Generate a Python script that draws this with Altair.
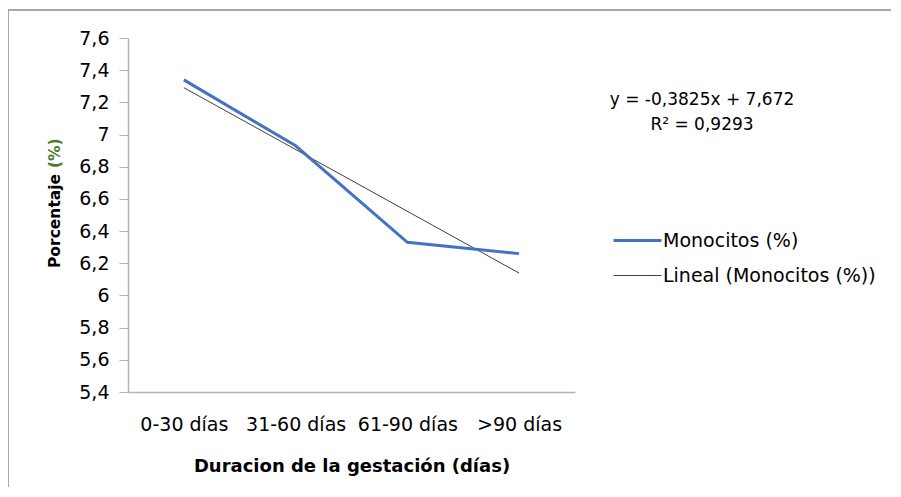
import altair as alt
import pandas as pd

categorias = ["0-30 días", "31-60 días", "61-90 días", ">90 días"]
indice = [1, 2, 3, 4]
monocitos = [7.34, 6.93, 6.33, 6.26]
series = ["Monocitos (%)", "Lineal (Monocitos (%))"]
y_ticks = [5.4, 5.6, 5.8, 6.0, 6.2, 6.4, 6.6, 6.8, 7.0, 7.2, 7.4, 7.6]
ecuacion = ["y = -0,3825x + 7,672", "R² = 0,9293"]
titulo_y = ["Porcentaje", "(%)"]

df = pd.DataFrame({"idx": indice, "cat": categorias, "valor": monocitos, "serie": series[0]})

FONT = "DejaVu Sans"
W, H = 447, 354
AX = "#b3b3b3"

label_expr = "[" + ",".join("'" + c + "'" for c in categorias) + "][datum.value - 1]"

xenc = alt.X("idx:Q", scale=alt.Scale(domain=[0.5, 4.5], nice=False, zero=False),
             axis=alt.Axis(values=indice, labelExpr=label_expr, title="Duracion de la gestación (días)",
                           grid=False, ticks=False, labelPadding=23, titlePadding=23,
                           domainColor=AX, domainWidth=1.5, labelFontSize=19,
                           titleFontSize=18, titleFontWeight="bold", labelColor="#000", titleColor="#000",
                           labelFont=FONT, titleFont=FONT))
yenc = alt.Y("valor:Q", scale=alt.Scale(domain=[5.4, 7.6], nice=False, zero=False),
             axis=alt.Axis(values=y_ticks, labelExpr="replace(format(datum.value, '.1~f'), '.', ',')",
                           title=None, grid=False, tickSize=9, tickColor=AX,
                           domainColor=AX, domainWidth=1.5, labelPadding=10,
                           labelFontSize=19, labelColor="#000", labelFont=FONT))

leg = alt.Legend(title=None, orient="none", legendX=484, legendY=177,
                 symbolType="stroke", symbolSize=2304, labelFontSize=19, labelLimit=0,
                 labelFont=FONT, labelColor="#000", rowPadding=0, labelOffset=0)
color = alt.Color("serie:N", scale=alt.Scale(domain=series, range=["#4472C4", "#404040"]), legend=leg)
swidth = alt.StrokeWidth("serie:N", scale=alt.Scale(domain=series, range=[3, 1]), legend=leg)

base = alt.Chart(df)
linea = base.mark_line().encode(x=xenc, y=yenc, color=color, strokeWidth=swidth)
tendencia = base.transform_regression("idx", "valor", method="linear").transform_calculate(
    serie="'" + series[1] + "'").mark_line().encode(x=xenc, y=yenc, color=color, strokeWidth=swidth)

def texto(t, x, y, **kw):
    return alt.Chart(pd.DataFrame({"t": [t]})).mark_text(font=FONT, **kw).encode(
        x=alt.value(x), y=alt.value(y), text="t:N")

eq1 = texto(ecuacion[0], 574, 62, fontSize=17, color="#000", align="center", baseline="middle")
eq2 = texto(ecuacion[1], 574, 87, fontSize=17, color="#000", align="center", baseline="middle")
ty1 = texto(titulo_y[0], -73, 230, fontSize=15.5, fontWeight="bold", color="#000", angle=270,
            align="left", baseline="middle")
ty2 = texto(titulo_y[1], -73, 130, fontSize=15.5, fontWeight="bold", color="#4a7a2c", angle=270,
            align="left", baseline="middle")

marco = alt.Chart(alt.Data(values=[{}])).mark_rect(fill=None, stroke="#8c8c8c", strokeWidth=1.5).encode(
    x=alt.value(-120), x2=alt.value(900), y=alt.value(-28), y2=alt.value(600))

chart = alt.layer(marco, tendencia, linea, eq1, eq2, ty1, ty2).properties(
    width=W, height=H, padding={"left": 120, "top": 30, "right": 316, "bottom": 95},
    autosize=alt.AutoSizeParams(type="none"), background="white"
).configure_view(stroke=None)

chart.save("out.html", embed_options={"renderer": "svg", "actions": False})
